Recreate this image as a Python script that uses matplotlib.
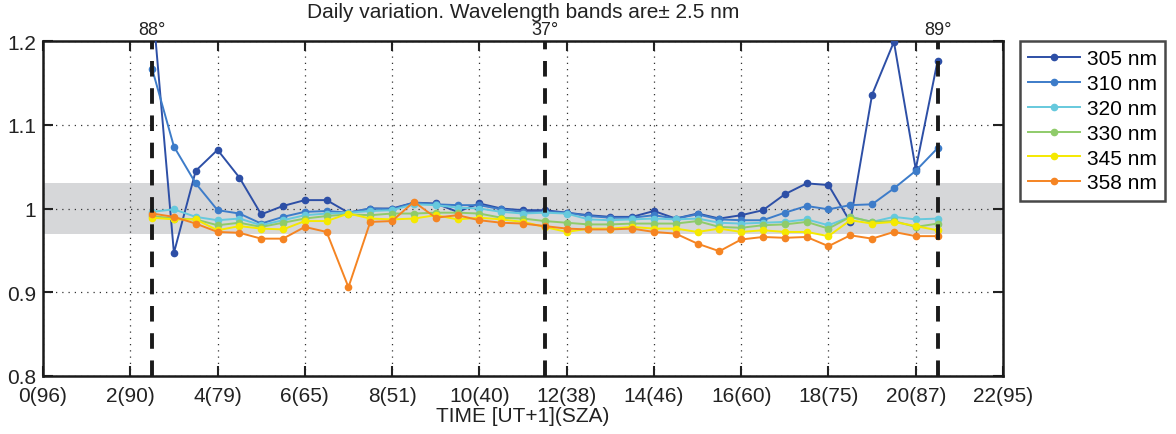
import numpy as np
import matplotlib
matplotlib.use("Agg")
import matplotlib.pyplot as plt

plt.rcParams['font.family'] = ['Liberation Sans', 'DejaVu Sans']

# time [UT+1] of each measurement
hours = np.arange(2.5, 20.51, 0.5)

r305 = [1.25, 0.947, 1.045, 1.070, 1.037, 0.993, 1.003, 1.010, 1.010, 0.995,
        1.000, 1.000, 1.007, 1.006, 0.996, 1.006, 1.000, 0.998, 0.998, 0.995,
        0.992, 0.990, 0.990, 0.997, 0.988, 0.994, 0.988, 0.992, 0.998, 1.017,
        1.030, 1.028, 0.984, 1.136, 1.199, 1.047, 1.176]
r310 = [1.167, 1.074, 1.030, 0.998, 0.994, 0.982, 0.990, 0.996, 0.997, 0.995,
        1.000, 0.999, 1.007, 1.005, 1.004, 1.004, 0.999, 0.996, 0.996, 0.995,
        0.991, 0.989, 0.989, 0.992, 0.988, 0.993, 0.987, 0.986, 0.986, 0.995,
        1.003, 0.999, 1.004, 1.005, 1.024, 1.045, 1.072]
r320 = [0.996, 0.999, 0.990, 0.986, 0.988, 0.980, 0.986, 0.992, 0.994, 0.995,
        0.997, 0.998, 1.005, 1.004, 1.001, 1.000, 0.996, 0.994, 0.995, 0.994,
        0.987, 0.986, 0.987, 0.988, 0.987, 0.988, 0.983, 0.982, 0.983, 0.984,
        0.987, 0.980, 0.990, 0.984, 0.990, 0.987, 0.988]
r330 = [0.991, 0.988, 0.987, 0.980, 0.983, 0.978, 0.983, 0.988, 0.991, 0.993,
        0.992, 0.994, 0.994, 0.995, 0.995, 0.994, 0.989, 0.988, 0.985, 0.983,
        0.981, 0.981, 0.982, 0.982, 0.982, 0.985, 0.978, 0.977, 0.980, 0.981,
        0.984, 0.976, 0.990, 0.984, 0.985, 0.978, 0.982]
r345 = [0.989, 0.987, 0.987, 0.974, 0.979, 0.976, 0.975, 0.985, 0.985, 0.994,
        0.988, 0.987, 0.988, 0.992, 0.987, 0.989, 0.987, 0.984, 0.978, 0.972,
        0.976, 0.976, 0.978, 0.976, 0.976, 0.972, 0.976, 0.972, 0.974, 0.972,
        0.972, 0.967, 0.986, 0.982, 0.984, 0.979, 0.974]
r358 = [0.994, 0.990, 0.982, 0.972, 0.971, 0.964, 0.964, 0.978, 0.972, 0.906,
        0.984, 0.985, 1.008, 0.989, 0.992, 0.986, 0.983, 0.982, 0.979, 0.976,
        0.975, 0.975, 0.976, 0.972, 0.970, 0.958, 0.949, 0.963, 0.966, 0.965,
        0.966, 0.955, 0.968, 0.964, 0.972, 0.967, 0.967]

series = [r305, r310, r320, r330, r345, r358]
labels = ['305 nm', '310 nm', '320 nm', '330 nm', '345 nm', '358 nm']
colores = ['#2d4fa6', '#3d7cc9', '#66c9dd', '#8fcb6a', '#f5e900', '#f58422']

xticks = np.arange(0, 23, 2)
xticklabels = ['0(96)', '2(90)', '4(79)', '6(65)', '8(51)', '10(40)',
               '12(38)', '14(46)', '16(60)', '18(75)', '20(87)', '22(95)']

# solar zenith angle markers
sza_x = [2.5, 11.5, 20.5]
sza_txt = ['88°', '37°', '89°']

fig = plt.figure(figsize=(11.76, 4.35), dpi=100)
ax = fig.add_axes([43/1176, 1-377/435, (1003-43)/1176, (377-42)/435])

ax.axhspan(0.97, 1.03, color='#d6d7d9', zorder=0, lw=0)

for y, lab, c in zip(series, labels, colores):
    ax.plot(hours, y, '-o', color=c, lw=1.4, ms=4.5, label=lab, zorder=3)

for xv, t in zip(sza_x, sza_txt):
    ax.axvline(xv, color='#1a1a1a', lw=2.8, ls=(0, (4, 3)), zorder=4)
    ax.text(xv, 1.2035, t, ha='center', va='bottom', fontsize=13, color='#222222')

ax.set_xlim(0, 22)
ax.set_ylim(0.8, 1.2)
ax.set_xticks(xticks)
ax.set_xticklabels(xticklabels)
ax.set_yticks([0.8, 0.9, 1.0, 1.1, 1.2])
ax.set_yticklabels(['0.8', '0.9', '1', '1.1', '1.2'])
ax.tick_params(direction='in', length=7, width=1.5, labelsize=15,
               top=True, right=True, colors='#222222')
ax.tick_params(axis='x', pad=7)
ax.tick_params(axis='y', pad=5)
ax.grid(True, ls=(0, (1, 4)), color='#333333', lw=0.9)
for s in ax.spines.values():
    s.set_linewidth(1.8)
    s.set_color('#1a1a1a')

ax.set_xlabel('TIME [UT+1](SZA)', fontsize=15, labelpad=1, color='#222222')
ax.set_title('Daily variation. Wavelength bands are\u00b1 2.5 nm', fontsize=15,
             pad=17, color='#222222')

leg = fig.legend(loc='upper left', bbox_to_anchor=(1020/1176, 1-42/435),
                 fontsize=15, frameon=True, fancybox=False, handlelength=2.5,
                 borderaxespad=0, labelspacing=0.28, handletextpad=0.3,
                 borderpad=0.4)
leg.get_frame().set_edgecolor('#1a1a1a')
leg.get_frame().set_linewidth(1.8)

fig.savefig('out.png', dpi=100)
